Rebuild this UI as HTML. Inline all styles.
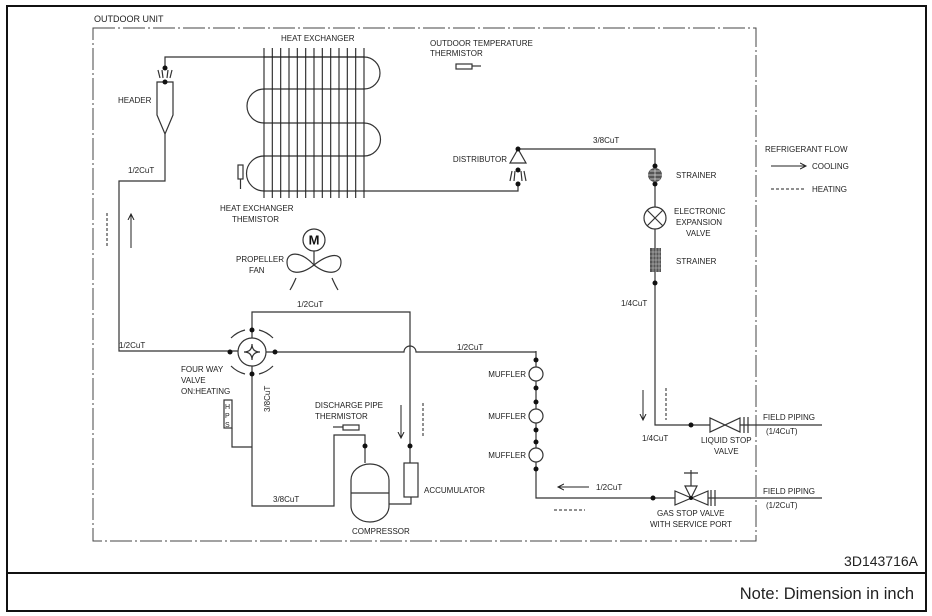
<!DOCTYPE html>
<html><head><style>
html,body{margin:0;padding:0;background:#fff;}
svg{display:block;}
text{font-family:"Liberation Sans",sans-serif;font-size:8px;fill:#222;}
</style></head><body>
<svg width="932" height="616" viewBox="0 0 932 616" xmlns="http://www.w3.org/2000/svg">
<defs>
<marker id="ah" markerWidth="8" markerHeight="8" refX="6" refY="4" orient="auto" markerUnits="userSpaceOnUse"><path d="M0,1 L6,4 L0,7" fill="none" stroke="#222" stroke-width="1"/></marker>
</defs>
<rect x="7" y="6" width="919" height="605" fill="none" stroke="#111" stroke-width="2"/>
<line x1="7" y1="573" x2="926" y2="573" stroke="#111" stroke-width="2"/>
<text x="918" y="566" text-anchor="end" style="font-size:14px">3D143716A</text>
<text x="914" y="599" text-anchor="end" style="font-size:16.5px">Note: Dimension in inch</text>

<rect x="93" y="28" width="663" height="513" fill="none" stroke="#444" stroke-width="1" stroke-dasharray="22,3,2,3"/>
<text x="94" y="22" style="font-size:9px">OUTDOOR UNIT</text>

<g fill="none" stroke="#333" stroke-width="1.2">
<path d="M165,68 V57 H364"/>
<path d="M157,82 H173 V115 L165,134 L157,115 Z"/>
<path d="M165,134 V181 H119 V351 H238"/>
<path d="M160,78 l-2,-8 M163,78 l-1,-8 M167,78 l1,-8 M170,78 l2,-8"/>
<path d="M264,57 H364 A16,16 0 0 1 364,89 H264 A17,17 0 0 0 264,123 H364 A16,16 0 0 1 364,156 H264 A17,17 0 0 0 264,191 H518 V184"/>
<path d="M518,149 H655 V283"/>
<path d="M518,149 L510,163 H526 Z"/>
<path d="M512,171 l-2,10 M515,171 l-1,10 M521,171 l1,10 M524,171 l2,10"/>
<path d="M655,283 V425 H710"/>
<path d="M740,425 H822"/>
<path d="M710,418 V432 L740,418 V432 Z"/>
<path d="M744,417 V433 M748,417 V433"/>
<path d="M536,351 V462 V498 H675"/>
<path d="M708,498 H822"/>
<path d="M675,491 V505 L708,491 V505 Z"/>
<path d="M711,490 V506 M715,490 V506"/>
<path d="M691,498 L685,486 H697 Z M691,486 V470 M684,473 H698"/>
<circle cx="252" cy="352" r="14"/>
<path d="M244,352 Q252,352 252,344 Q252,352 260,352 Q252,352 252,360 Q252,352 244,352"/>
<path d="M231,338 q6,-6 14,-8 M273,338 q-6,-6 -14,-8 M231,366 q6,6 14,8 M273,366 q-6,6 -14,8"/>
<path d="M266,352 H404 A6,6 0 0 1 416,352 H536"/>
<path d="M252,338 V312 H410 V463"/>
<path d="M252,366 V506 H334 V435 H365 V463"/>
<path d="M232,428 V447 H252"/>
<rect x="224" y="400" width="8" height="28"/>
<path d="M351,480 A19,16 0 0 1 389,480 V506 A19,16 0 0 1 351,506 Z"/>
<line x1="351" y1="493" x2="389" y2="493"/>
<rect x="404" y="463" width="14" height="34"/>
<path d="M411,497 V504 H389"/>
<rect x="343" y="425" width="16" height="5"/>
<path d="M333,427 H343"/>
<circle cx="536" cy="374" r="7" fill="#fff"/>
<circle cx="536" cy="416" r="7" fill="#fff"/>
<circle cx="536" cy="455" r="7" fill="#fff"/>
<circle cx="655" cy="218" r="11" fill="#fff"/>
<path d="M647,210 L663,226 M663,210 L647,226"/>
<rect x="456" y="64" width="16" height="5"/>
<path d="M472,66 H481"/>
<rect x="238" y="165" width="5" height="14"/>
<path d="M240.5,179 V189"/>
<circle cx="314" cy="240" r="11"/>
<path d="M314,251 V265"/>
<path d="M314,265 C300,250 287,252 287,262 C287,274 300,276 314,265 C328,254 341,252 341,262 C341,274 328,276 314,265 Z"/>
<path d="M296,278 q-3,7 -6,12 M332,278 q3,7 6,12"/>
</g>
<text x="314" y="244.5" text-anchor="middle" style="font-size:13px;font-weight:bold;fill:#111">M</text>
<circle cx="655" cy="175" r="7" fill="#555"/>
<path d="M648,175 H662 M655,168 V182 M650,171 H660 M650,179 H660" stroke="#ddd" stroke-width="0.7"/>
<rect x="650" y="248" width="11" height="24" fill="#555"/>
<path d="M650,252 H661 M650,256 H661 M650,260 H661 M650,264 H661 M650,268 H661 M653,248 V272 M656,248 V272 M659,248 V272" stroke="#ccc" stroke-width="0.6"/>
<g fill="#111">
<circle cx="165" cy="68" r="2.5"/><circle cx="165" cy="82" r="2.5"/>
<circle cx="518" cy="149" r="2.5"/><circle cx="518" cy="170" r="2.5"/><circle cx="518" cy="184" r="2.5"/>
<circle cx="655" cy="166" r="2.5"/><circle cx="655" cy="184" r="2.5"/><circle cx="655" cy="283" r="2.5"/>
<circle cx="691" cy="425" r="2.5"/><circle cx="653" cy="498" r="2.5"/><circle cx="691" cy="498" r="2"/>
<circle cx="252" cy="330" r="2.5"/><circle cx="252" cy="374" r="2.5"/><circle cx="230" cy="352" r="2.5"/><circle cx="275" cy="352" r="2.5"/>
<circle cx="365" cy="446" r="2.5"/><circle cx="410" cy="446" r="2.5"/>
<circle cx="536" cy="360" r="2.5"/><circle cx="536" cy="388" r="2.5"/><circle cx="536" cy="402" r="2.5"/><circle cx="536" cy="430" r="2.5"/><circle cx="536" cy="442" r="2.5"/><circle cx="536" cy="469" r="2.5"/>
</g>
<g stroke="#222" stroke-width="1.1">
<line x1="264" y1="48" x2="264" y2="198"/><line x1="272.3" y1="48" x2="272.3" y2="198"/><line x1="280.7" y1="48" x2="280.7" y2="198"/><line x1="289" y1="48" x2="289" y2="198"/><line x1="297.3" y1="48" x2="297.3" y2="198"/><line x1="305.7" y1="48" x2="305.7" y2="198"/><line x1="314" y1="48" x2="314" y2="198"/><line x1="322.3" y1="48" x2="322.3" y2="198"/><line x1="330.7" y1="48" x2="330.7" y2="198"/><line x1="339" y1="48" x2="339" y2="198"/><line x1="347.3" y1="48" x2="347.3" y2="198"/><line x1="355.7" y1="48" x2="355.7" y2="198"/><line x1="364" y1="48" x2="364" y2="198"/>
</g>
<g stroke="#222" stroke-width="1" fill="none">
<line x1="131" y1="248" x2="131" y2="214" marker-end="url(#ah)"/>
<line x1="107" y1="213" x2="107" y2="248" stroke-dasharray="3,2"/>
<line x1="401" y1="405" x2="401" y2="438" marker-end="url(#ah)"/>
<line x1="423" y1="403" x2="423" y2="437" stroke-dasharray="3,2"/>
<line x1="643" y1="390" x2="643" y2="420" marker-end="url(#ah)"/>
<line x1="666" y1="388" x2="666" y2="420" stroke-dasharray="3,2"/>
<line x1="589" y1="487" x2="558" y2="487" marker-end="url(#ah)"/>
<line x1="554" y1="510" x2="585" y2="510" stroke-dasharray="3,2"/>
<line x1="771" y1="166" x2="806" y2="166" marker-end="url(#ah)"/>
<line x1="771" y1="189" x2="806" y2="189" stroke-dasharray="3,2"/>
</g>
<text x="281" y="41">HEAT EXCHANGER</text>
<text x="430" y="46">OUTDOOR TEMPERATURE</text>
<text x="430" y="56">THERMISTOR</text>
<text x="118" y="103">HEADER</text>
<text x="128" y="173">1/2CuT</text>
<text x="220" y="211">HEAT EXCHANGER</text>
<text x="232" y="222">THEMISTOR</text>
<text x="507" y="162" text-anchor="end">DISTRIBUTOR</text>
<text x="593" y="143">3/8CuT</text>
<text x="676" y="178">STRAINER</text>
<text x="674" y="214">ELECTRONIC</text>
<text x="676" y="225">EXPANSION</text>
<text x="686" y="236">VALVE</text>
<text x="676" y="264">STRAINER</text>
<text x="621" y="306">1/4CuT</text>
<text x="765" y="152">REFRIGERANT FLOW</text>
<text x="812" y="169">COOLING</text>
<text x="812" y="192">HEATING</text>
<text x="236" y="262">PROPELLER</text>
<text x="249" y="273">FAN</text>
<text x="297" y="307">1/2CuT</text>
<text x="119" y="348">1/2CuT</text>
<text x="457" y="350">1/2CuT</text>
<text x="181" y="372">FOUR WAY</text>
<text x="181" y="383">VALVE</text>
<text x="181" y="394">ON:HEATING</text>
<text x="315" y="408">DISCHARGE PIPE</text>
<text x="315" y="419">THERMISTOR</text>
<text x="526" y="377" text-anchor="end">MUFFLER</text>
<text x="526" y="419" text-anchor="end">MUFFLER</text>
<text x="526" y="458" text-anchor="end">MUFFLER</text>
<text x="424" y="493">ACCUMULATOR</text>
<text x="273" y="502">3/8CuT</text>
<text x="352" y="534">COMPRESSOR</text>
<text x="596" y="490">1/2CuT</text>
<text x="642" y="441">1/4CuT</text>
<text x="701" y="443">LIQUID STOP</text>
<text x="714" y="454">VALVE</text>
<text x="763" y="420">FIELD PIPING</text>
<text x="766" y="434">(1/4CuT)</text>
<text x="763" y="494">FIELD PIPING</text>
<text x="766" y="508">(1/2CuT)</text>
<text x="657" y="516">GAS STOP VALVE</text>
<text x="650" y="527">WITH SERVICE PORT</text>
<text x="0" y="0" transform="translate(270,412) rotate(-90)">3/8CuT</text>
<text x="225" y="409" style="font-size:7px">H</text>
<text x="225" y="418" style="font-size:7px">P</text>
<text x="225" y="427" style="font-size:7px">S</text>
</svg>
</body></html>
